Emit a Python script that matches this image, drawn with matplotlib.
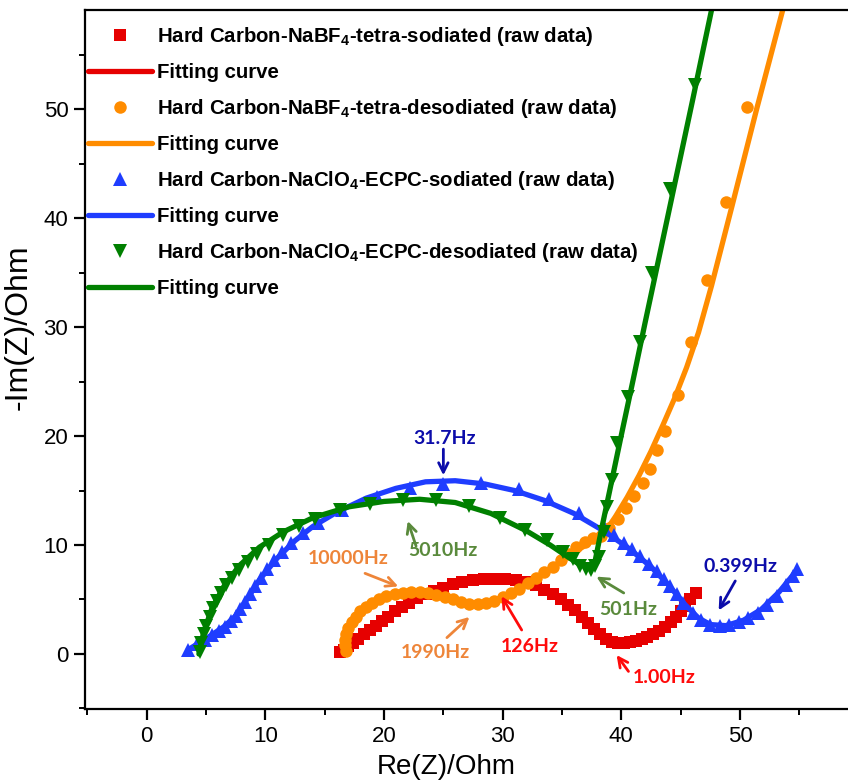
"""Nyquist plots of hard carbon electrodes in two electrolytes, raw data with fitted curves."""

import matplotlib
matplotlib.use("Agg")
import matplotlib.pyplot as plt
import numpy as np

plt.rcParams["font.family"] = ["Liberation Sans", "DejaVu Sans"]
plt.rcParams["mathtext.fontset"] = "custom"
plt.rcParams["mathtext.rm"] = "Liberation Sans"
plt.rcParams["mathtext.bf"] = "Liberation Sans:bold"

# (Re Z, -Im Z) in Ohm
nabf4_sod_raw = [
    (16.3, 0.2), (16.6, 0.4), (17.0, 0.7), (17.4, 1.0), (17.8, 1.4), (18.3, 1.8),
    (18.8, 2.2), (19.3, 2.6), (19.8, 3.0), (20.3, 3.4), (20.9, 3.9), (21.5, 4.3),
    (22.1, 4.7), (22.8, 5.1), (23.5, 5.5), (24.2, 5.8), (25.0, 6.1), (25.8, 6.4),
    (26.6, 6.6), (27.5, 6.8), (28.4, 6.9), (29.3, 6.9), (30.2, 6.9), (31.1, 6.8),
    (32.0, 6.6), (32.8, 6.3), (33.5, 5.9), (34.2, 5.5), (34.9, 5.0), (35.5, 4.5),
    (36.1, 4.0), (36.7, 3.4), (37.2, 2.8), (37.7, 2.3), (38.2, 1.8), (38.7, 1.4),
    (39.2, 1.1), (39.7, 1.0), (40.2, 1.0), (40.7, 1.1), (41.2, 1.2), (41.7, 1.4),
    (42.2, 1.6), (42.7, 1.8), (43.2, 2.1), (43.7, 2.5), (44.2, 2.9), (44.6, 3.4),
    (45.0, 3.9), (45.4, 4.4), (45.8, 5.0), (46.3, 5.6),
]
nabf4_sod_fit = [
    (16.3, 0.1), (17.5, 1.1), (19.0, 2.4), (21.0, 3.9), (23.0, 5.2), (25.0, 6.1),
    (27.0, 6.7), (29.0, 6.9), (31.0, 6.8), (32.5, 6.4), (34.0, 5.6), (35.5, 4.6),
    (37.0, 3.1), (38.3, 1.7), (39.5, 1.1), (40.5, 1.0), (42.0, 1.4), (43.5, 2.3),
    (44.8, 3.5), (46.0, 5.2),
]

nabf4_desod_raw = [
    (16.8, 0.3), (16.7, 0.8), (16.7, 1.3), (16.8, 1.8), (17.0, 2.4), (17.3, 2.9),
    (17.6, 3.4), (18.0, 3.9), (18.5, 4.3), (19.0, 4.7), (19.6, 5.0), (20.2, 5.3),
    (20.9, 5.5), (21.6, 5.6), (22.3, 5.7), (23.0, 5.7), (23.7, 5.6), (24.4, 5.4),
    (25.1, 5.2), (25.8, 5.0), (26.5, 4.8), (27.2, 4.6), (27.9, 4.6), (28.6, 4.7),
    (29.3, 4.9), (30.0, 5.2), (30.7, 5.6), (31.4, 6.0), (32.1, 6.5), (32.8, 7.0),
    (33.5, 7.5), (34.2, 8.0), (34.9, 8.6), (35.6, 9.2), (36.2, 9.8), (36.9, 10.3),
    (37.6, 10.6), (38.3, 10.8), (39.0, 11.6), (39.7, 12.4), (40.4, 13.4), (41.1, 14.5),
    (41.8, 15.7), (42.4, 17.0), (43.0, 18.7), (43.7, 20.5), (44.8, 23.8), (45.9, 28.6),
    (47.2, 34.3), (48.8, 41.5), (50.6, 50.2),
]
nabf4_desod_fit = [
    (16.8, 0.2), (16.8, 1.5), (17.3, 3.0), (18.2, 4.1), (19.5, 5.0), (21.0, 5.5),
    (22.5, 5.7), (24.0, 5.5), (25.5, 5.1), (27.0, 4.7), (28.5, 4.7), (30.0, 5.2),
    (31.5, 6.1), (33.0, 7.1), (34.5, 8.2), (36.0, 9.3), (37.3, 10.2), (38.5, 11.0),
    (39.5, 12.6), (40.5, 14.4), (41.5, 16.4), (42.5, 18.6), (43.5, 21.0), (44.5, 23.5),
    (45.5, 26.3), (46.5, 29.5), (47.6, 33.8), (49.3, 41.0), (51.4, 50.0), (53.6, 59.1),
    (54.2, 61.5),
]

naclo4_sod_raw = [
    (3.5, 0.4), (4.2, 0.9), (4.9, 1.3), (5.5, 1.7), (6.1, 2.1), (6.6, 2.5),
    (7.1, 3.0), (7.5, 3.5), (7.9, 4.1), (8.3, 4.8), (8.7, 5.5), (9.1, 6.2),
    (9.6, 7.0), (10.1, 7.8), (10.7, 8.6), (11.4, 9.4), (12.2, 10.2), (13.2, 11.1),
    (14.4, 12.0), (16.5, 13.2), (19.4, 14.4), (22.2, 15.2), (25.0, 15.6), (28.2, 15.7),
    (31.4, 15.1), (33.9, 14.2), (36.4, 12.9), (38.6, 11.5), (39.4, 10.9), (40.2, 10.2),
    (40.9, 9.6), (41.6, 9.0), (42.3, 8.3), (43.0, 7.6), (43.6, 6.9), (44.1, 6.2),
    (44.7, 5.5), (45.2, 4.7), (46.0, 3.8), (46.7, 3.1), (47.5, 2.7), (48.3, 2.6),
    (49.1, 2.7), (49.9, 2.9), (50.7, 3.3), (51.5, 3.8), (52.3, 4.5), (53.1, 5.3),
    (53.9, 6.3), (54.5, 7.2), (54.8, 7.8),
]
naclo4_sod_fit = [
    (3.5, 0.4), (5.0, 1.4), (6.5, 2.5), (7.5, 3.5), (8.5, 5.1), (9.5, 6.8),
    (11.0, 8.8), (12.5, 10.4), (14.0, 11.7), (16.0, 13.0), (18.5, 14.3), (21.0, 15.2),
    (23.5, 15.8), (26.0, 15.9), (28.5, 15.6), (31.0, 15.0), (33.5, 14.1), (36.0, 12.9),
    (38.5, 11.3), (40.5, 9.8), (42.5, 8.0), (44.0, 6.3), (45.3, 4.6), (46.5, 3.3),
    (47.5, 2.7), (48.8, 2.6), (50.3, 3.1), (51.8, 4.1), (53.3, 5.7), (54.8, 7.7),
]

naclo4_desod_raw = [
    (4.5, 0.2), (4.6, 1.0), (4.8, 1.8), (5.0, 2.6), (5.3, 3.4), (5.6, 4.2),
    (5.9, 4.9), (6.3, 5.6), (6.7, 6.3), (7.2, 7.0), (7.8, 7.7), (8.5, 8.4),
    (9.3, 9.2), (10.3, 10.0), (11.5, 10.9), (12.8, 11.7), (14.2, 12.4), (16.3, 13.2),
    (18.8, 13.8), (21.6, 14.1), (24.4, 14.1), (27.2, 13.6), (29.8, 12.5), (31.9, 11.4),
    (33.7, 10.5), (35.1, 9.4), (35.9, 8.7), (36.5, 8.1), (37.0, 7.8), (37.4, 7.7),
    (37.8, 8.1), (38.1, 8.9), (38.5, 11.2), (38.8, 13.5), (39.2, 16.0), (39.6, 19.4),
    (40.6, 23.6), (41.6, 28.6), (42.6, 35.0), (44.1, 42.7), (46.2, 52.2),
]
naclo4_desod_fit = [
    (4.4, 0.0), (4.8, 2.0), (5.5, 4.2), (6.5, 6.2), (7.8, 8.1), (9.5, 9.8),
    (11.5, 11.2), (14.0, 12.5), (17.0, 13.5), (20.0, 14.0), (23.0, 14.2), (26.0, 13.9),
    (29.0, 12.9), (32.0, 11.3), (34.0, 10.0), (35.5, 8.9), (36.5, 8.2), (37.3, 7.9),
    (37.8, 8.6), (38.3, 11.3), (39.0, 14.9), (40.0, 20.1), (41.0, 25.2), (42.0, 30.4),
    (43.0, 35.5), (44.0, 40.6), (45.0, 45.7), (46.0, 50.8), (47.0, 56.0), (47.6, 59.1),
    (48.0, 61.2),
]

series_labels = [
    r"Hard Carbon-NaBF$_\mathbf{4}$-tetra-sodiated (raw data)",
    r"Hard Carbon-NaBF$_\mathbf{4}$-tetra-desodiated (raw data)",
    r"Hard Carbon-NaClO$_\mathbf{4}$-ECPC-sodiated (raw data)",
    r"Hard Carbon-NaClO$_\mathbf{4}$-ECPC-desodiated (raw data)",
]

# frequency callouts: text, text position, arrow tail, arrow tip, colour
freq_notes = [
    ("31.7Hz", (25.1, 19.8), (25.0, 18.8), (25.0, 16.4), "#0c0caa"),
    ("0.399Hz", (50.0, 8.0), (49.6, 6.7), (48.2, 4.0), "#0c0caa"),
    ("5010Hz", (25.0, 9.5), (22.7, 9.9), (22.0, 12.2), "#5a8a3c"),
    ("501Hz", (40.6, 4.1), (40.2, 5.6), (37.9, 7.1), "#5a8a3c"),
    ("10000Hz", (17.0, 8.8), (18.4, 7.4), (21.2, 6.2), "#ee8539"),
    ("1990Hz", (24.3, 0.1), (25.3, 1.5), (27.2, 3.4), "#ee8539"),
    ("126Hz", (32.3, 0.7), (31.6, 2.2), (29.9, 5.3), "#ff0a0a"),
    ("1.00Hz", (43.6, -2.2), (40.6, -1.6), (39.6, -0.1), "#ff0a0a"),
]

fig = plt.figure(figsize=(8.48, 7.81), dpi=100)
ax = fig.add_axes([85 / 848, 72 / 781, 763 / 848, 699 / 781])

styles = [
    (nabf4_sod_raw, nabf4_sod_fit, "#e60000", "s", 8.8),
    (nabf4_desod_raw, nabf4_desod_fit, "#ff8c00", "o", 9.0),
    (naclo4_sod_raw, naclo4_sod_fit, "#1f3dff", "^", 10.0),
    (naclo4_desod_raw, naclo4_desod_fit, "#008000", "v", 10.0),
]
for (raw, fit, color, marker, ms), label in zip(styles, series_labels):
    raw = np.array(raw)
    fit = np.array(fit)
    ax.plot(raw[:, 0], raw[:, 1], linestyle="none", marker=marker, ms=ms,
            color=color, markeredgewidth=0, label=label)
    ax.plot(fit[:, 0], fit[:, 1], color=color, lw=3.8, label="Fitting curve",
            solid_capstyle="round")

for text, (tx, ty), tail, tip, color in freq_notes:
    ax.annotate("", xy=tip, xytext=tail,
                arrowprops=dict(arrowstyle="->", color=color, lw=2.0,
                                mutation_scale=17, shrinkA=0, shrinkB=0))
    ax.text(tx, ty, text, color=color, fontsize=14, fontweight="bold",
            family=["Lato", "DejaVu Sans"], ha="center", va="center")

ax.set_xlim(-5.2, 59.1)
ax.set_ylim(-5.05, 59.1)
ax.set_xticks(np.arange(0, 51, 10))
ax.set_xticks(np.arange(-5, 59, 5), minor=True)
ax.set_yticks(np.arange(0, 51, 10))
ax.set_yticks(np.arange(-5, 59, 5), minor=True)
ax.tick_params(which="major", direction="out", length=8, width=1.6,
               labelsize=16, pad=4)
ax.tick_params(which="minor", direction="out", length=4, width=1.4)
ax.spines["right"].set_visible(False)
for side in ("left", "bottom", "top"):
    ax.spines[side].set_linewidth(1.6)

ax.set_xlabel("Re(Z)/Ohm", fontsize=20)
ax.set_ylabel("-Im(Z)/Ohm", fontsize=23)
ax.xaxis.set_label_coords(0.474, -0.064)
ax.yaxis.set_label_coords(-0.067, 0.546)

ax.legend(loc="upper left", bbox_to_anchor=(0.004, 0.978), frameon=False,
          prop={"weight": "bold", "size": 14.7}, handlelength=3.15,
          handletextpad=0.25, labelspacing=0.73, borderpad=0, borderaxespad=0)

fig.savefig("out.png", dpi=100)
